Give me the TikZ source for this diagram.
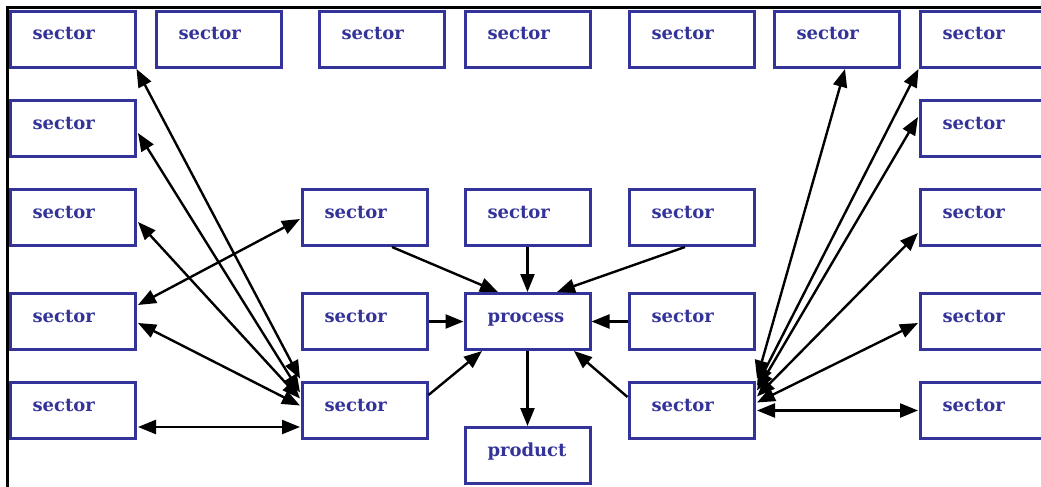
\documentclass[tikz,border=0pt]{standalone}
\usepackage{fontspec}
\setmainfont{DejaVu Serif}
\usetikzlibrary{arrows.meta}
\definecolor{boxblue}{HTML}{333399}
\begin{document}
\begin{tikzpicture}[x=1pt,y=-1pt,
  box/.style={draw=boxblue, line width=3pt, fill=white,
    minimum width=124pt, minimum height=56pt,
    text width=80pt, align=left, inner xsep=22.5pt, inner ysep=0pt,
    text height=10pt, text depth=9pt,
    font=\fontsize{18}{19}\selectfont\bfseries, text=boxblue},
  link/.style={line width=2.4pt, -{Triangle[length=18pt,width=14pt]}},
  both/.style={line width=2.4pt, {Triangle[length=18pt,width=14pt]}-{Triangle[length=18pt,width=14pt]}}]
\useasboundingbox (0,0) rectangle (1041,487);
% frame
\draw[line width=3pt, line cap=rect] (7,487) -- (7,7.5) -- (1045,7.5);
% top row
\node[box] (T1) at (72.5,39.5) {sector};
\node[box] (T2) at (218.5,39.5) {sector};
\node[box] (T3) at (381.5,39.5) {sector};
\node[box] (T4) at (527.5,39.5) {sector};
\node[box] (T5) at (691.5,39.5) {sector};
\node[box] (T6) at (836.5,39.5) {sector};
\node[box] (R1) at (982.5,39.5) {sector};
% left column
\node[box] (L2) at (72.5,128.5) {sector};
\node[box] (L3) at (72.5,217.5) {sector};
\node[box] (L4) at (72.5,321.5) {sector};
\node[box] (L5) at (72.5,410.5) {sector};
% right column
\node[box] (R2) at (982.5,128.5) {sector};
\node[box] (R3) at (982.5,217.5) {sector};
\node[box] (R4) at (982.5,321.5) {sector};
\node[box] (R5) at (982.5,410.5) {sector};
% centre block
\node[box] (M1L) at (364.5,217.5) {sector};
\node[box] (M1C) at (527.5,217.5) {sector};
\node[box] (M1R) at (691.5,217.5) {sector};
\node[box] (M2L) at (364.5,321.5) {sector};
\node[box] (P) at (527.5,321.5) {process};
\node[box] (M2R) at (691.5,321.5) {sector};
\node[box] (M3L) at (364.5,410.5) {sector};
\node[box] (M3R) at (691.5,410.5) {sector};
\node[box] (Q) at (527.5,455.5) {product};
% left exchanges
\draw[both] (T1.south east) -- ([yshift=32pt,xshift=-0.5pt]M3L.west);
\draw[both] ([yshift=-4.5pt,xshift=1.5pt]L2.east) -- ([yshift=18pt,xshift=-0.5pt]M3L.west);
\draw[both] ([yshift=-4.5pt,xshift=1.5pt]L3.east) -- ([yshift=12pt,xshift=-0.5pt]M3L.west);
\draw[both] ([yshift=16.5pt,xshift=1.5pt]L4.east) -- ([yshift=-1.5pt,xshift=-0.5pt]M1L.west);
\draw[both] ([yshift=-1.5pt,xshift=1.5pt]L4.east) -- ([yshift=5pt,xshift=-0.5pt]M3L.west);
\draw[both] ([yshift=-16.5pt,xshift=1.5pt]L5.east) -- ([yshift=-16.5pt,xshift=-0.5pt]M3L.west);
% flows into the process
\draw[link] ([xshift=27.5pt]M1L.south) -- ([xshift=-29.5pt]P.north);
\draw[link] (M1C.south) -- (P.north);
\draw[link] ([xshift=-6.5pt]M1R.south) -- ([xshift=29.5pt]P.north);
\draw[link] (M2L.east) -- (P.west);
\draw[link] (M2R.west) -- (P.east);
\draw[link] ([yshift=15.5pt]M3L.east) -- ([xshift=-45.5pt]P.south);
\draw[link] ([yshift=13.5pt]M3R.west) -- ([xshift=46.5pt]P.south);
\draw[link] (P.south) -- (Q.north);
% right exchanges
\draw[both] ([xshift=8.5pt]T6.south) -- ([yshift=32pt,xshift=1.5pt]M3R.east);
\draw[both] (R1.south west) -- ([yshift=25pt,xshift=1.5pt]M3R.east);
\draw[both] ([yshift=11.5pt,xshift=-0.5pt]R2.west) -- ([yshift=20pt,xshift=1.5pt]M3R.east);
\draw[both] ([yshift=-15.5pt,xshift=-0.5pt]R3.west) -- ([yshift=14pt,xshift=1.5pt]M3R.east);
\draw[both] ([yshift=-1.5pt,xshift=-0.5pt]R4.west) -- ([yshift=8pt,xshift=1.5pt]M3R.east);
\draw[both] ([xshift=1.5pt]M3R.east) -- ([xshift=-0.5pt]R5.west);
\end{tikzpicture}
\end{document}
